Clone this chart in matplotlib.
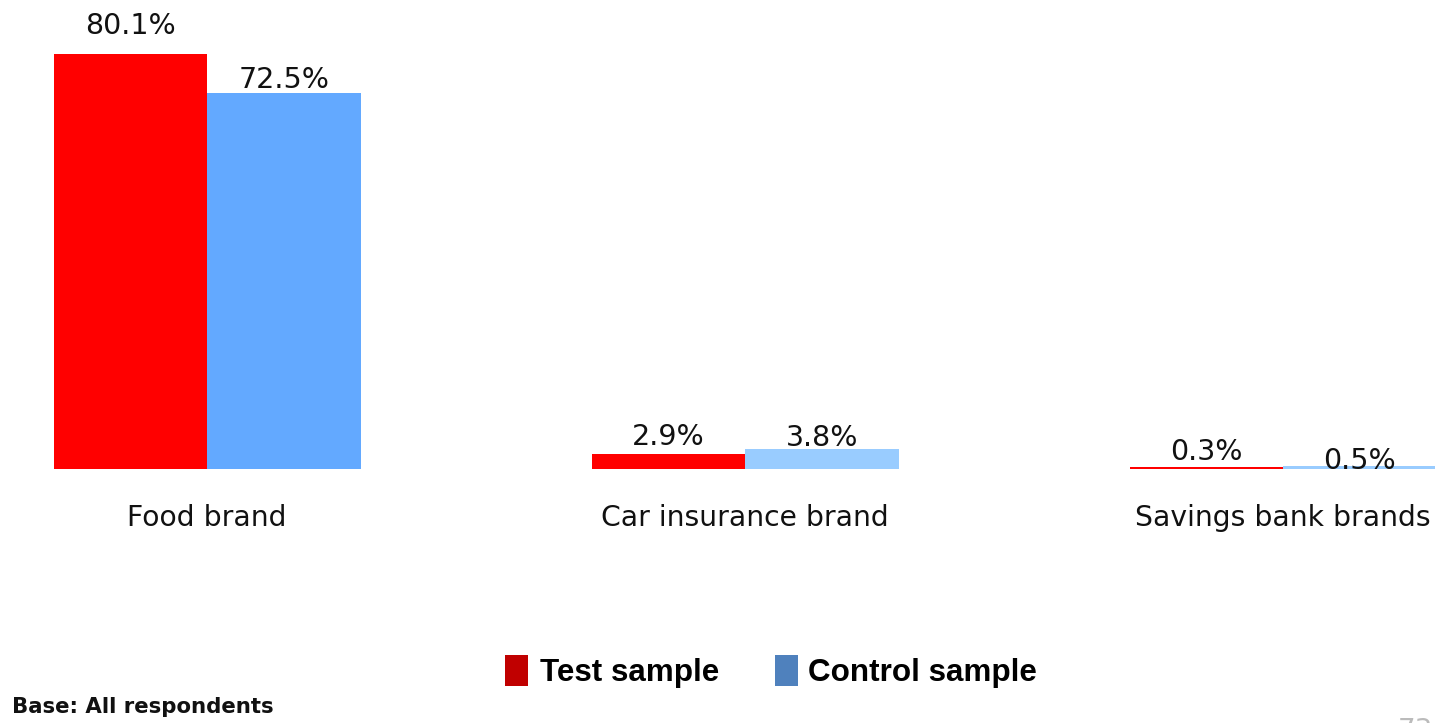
import matplotlib
matplotlib.use("Agg")
import matplotlib.pyplot as plt
from matplotlib.patches import Rectangle
import numpy as np

categories = ["Food brand", "Car insurance brand", "Savings bank brands"]
test_values = [80.1, 2.9, 0.3]
control_values = [72.5, 3.8, 0.5]
series_names = ["Test sample", "Control sample"]
footnote = "Base: All respondents"
page_number = "73"

# styling
test_color = "#FF0000"
control_colors = ["#63A9FF", "#99CCFF", "#99CCFF"]
legend_colors = ["#C00000", "#4F81BD"]
test_label_offsets = [20, 12, 11]      # points above bar top (label centre)
control_label_offsets = [9.5, 8.5, 4]

W, H = 1435, 723
fig = plt.figure(figsize=(W / 100, H / 100), dpi=100)
ax = fig.add_axes([0, (H - 469) / H, 1, 469 / H])
ax.set_xlim(-207 / 538, (W - 207) / 538)
ax.set_ylim(0, 469 / 5.18)
ax.axis("off")

x = np.arange(len(categories))
bw = 153.5 / 538
ax.bar(x - bw / 2, test_values, bw, color=test_color, linewidth=0)
ax.bar(x + bw / 2, control_values, bw, color=control_colors, linewidth=0)

font = "DejaVu Sans"
for i in range(len(categories)):
    ax.annotate(f"{test_values[i]:.1f}%", (x[i] - bw / 2, test_values[i]),
                xytext=(0, test_label_offsets[i]), textcoords="offset points",
                ha="center", va="center", fontsize=20.5, family=font, color="#111111")
    ax.annotate(f"{control_values[i]:.1f}%", (x[i] + bw / 2, control_values[i]),
                xytext=(0, control_label_offsets[i]), textcoords="offset points",
                ha="center", va="center", fontsize=20.5, family=font, color="#111111")
    ax.annotate(categories[i], (x[i], 0), xytext=(0, -35), textcoords="offset points",
                ha="center", va="center", fontsize=20.3, family=font, color="#111111",
                annotation_clip=False)

# legend
for sx, tx, col, name in [(505, 540, legend_colors[0], series_names[0]),
                          (775, 808, legend_colors[1], series_names[1])]:
    fig.patches.append(Rectangle((sx / W, (H - 686) / H), 23 / W, 31 / H,
                                 transform=fig.transFigure, color=col, linewidth=0))
    fig.text(tx / W, (H - 673) / H, name, ha="left", va="center", fontsize=22.6,
             fontweight="bold", family="Liberation Sans", color="black")

fig.text(12 / W, (H - 707) / H, footnote, ha="left", va="center", fontsize=15.3,
         fontweight="bold", family=font, color="#111111")
fig.text(1415 / W, (H - 717) / H, page_number, ha="center", va="top", fontsize=20,
         family=font, color="#BBBBBB")

fig.savefig("out.png", dpi=100)
